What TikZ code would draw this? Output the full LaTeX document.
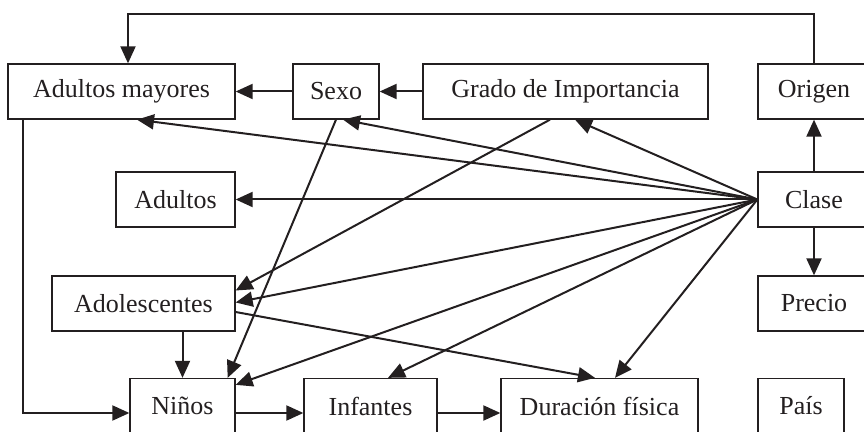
\documentclass[tikz,border=0pt]{standalone}
\usepackage{fontspec}
\setmainfont{Liberation Serif}
\usetikzlibrary{arrows.meta}
\definecolor{ink}{RGB}{35,31,32}
\begin{document}
\begin{tikzpicture}[x=1pt,y=1pt,
  box/.style={draw=ink,line width=1.3pt,minimum height=55pt,inner sep=0pt,
    font=\fontsize{26}{30}\selectfont,text=ink},
  arr/.style={draw=ink,line width=2pt,-{Triangle[length=17pt,width=15pt]}}]
\useasboundingbox (0,0) rectangle (864,431);
% boxes (centre x, centre y)
\node[box,minimum width=227pt] (am) at (121.5,339.5) {Adultos mayores};
\node[box,minimum width=86pt] (sexo) at (336,339.5) {Sexo};
\node[box,minimum width=285pt] (grado) at (565.5,339.5) {Grado de Importancia};
\node[box,minimum width=112pt] (origen) at (814,339.5) {Origen};
\node[box,minimum width=119pt] (adultos) at (175.5,231.5) {Adultos};
\node[box,minimum width=112pt] (clase) at (814,231.5) {Clase};
\node[box,minimum width=183pt] (adol) at (143.5,127.5) {Adolescentes};
\node[box,minimum width=112pt] (precio) at (814,127.5) {Precio};
\node[box,minimum width=105pt] (ninos) at (182.5,25) {Niños};
\node[box,minimum width=133pt] (infantes) at (370.5,25) {Infantes};
\node[box,minimum width=197pt] (duracion) at (599.5,25) {Duración física};
\node[box,minimum width=86pt] (pais) at (801,25) {País};
% helper coordinates
\coordinate (topl) at (128,417);
\coordinate (leftc) at (23,18);
% feedback loop
\draw[arr] (origen.north) |- (topl) -- (topl |- am.north);
\draw[arr] (clase.north) -- (origen.south);
\draw[arr] (clase.south) -- (precio.north);
\draw[arr] (sexo.west) -- (am.east);
\draw[arr] (grado.west) -- (sexo.east);
\draw[arr] (am.south -| leftc) -- (leftc) -- (leftc -| ninos.west);
\draw[arr] (adol.south -| ninos.north) -- (ninos.north);
\draw[arr] (ninos.east |- leftc) -- (infantes.west |- leftc);
\draw[arr] (infantes.east |- leftc) -- (duracion.west |- leftc);
% fan from Clase
\draw[arr] (clase.west) -- ([xshift=15.5pt]am.south);
\draw[arr] (clase.west) -- ([xshift=7pt]sexo.south);
\draw[arr] (clase.west) -- ([xshift=9.5pt]grado.south);
\draw[arr] (clase.west) -- (adultos.east);
\draw[arr] (clase.west) -- ([yshift=1pt]adol.east);
\draw[arr] (clase.west) -- ([yshift=-7pt]ninos.north east);
\draw[arr] (clase.west) -- ([xshift=17.5pt]infantes.north);
\draw[arr] (clase.west) -- ([xshift=15.5pt]duracion.north);
% other diagonals
\draw[arr] ([xshift=-15.5pt]grado.south) -- ([yshift=13pt]adol.east);
\draw[arr] (sexo.south) -- ([xshift=-8pt]ninos.north east);
\draw[arr] ([yshift=-8.5pt]adol.east) -- ([xshift=-4.5pt]duracion.north);
\end{tikzpicture}
\end{document}
